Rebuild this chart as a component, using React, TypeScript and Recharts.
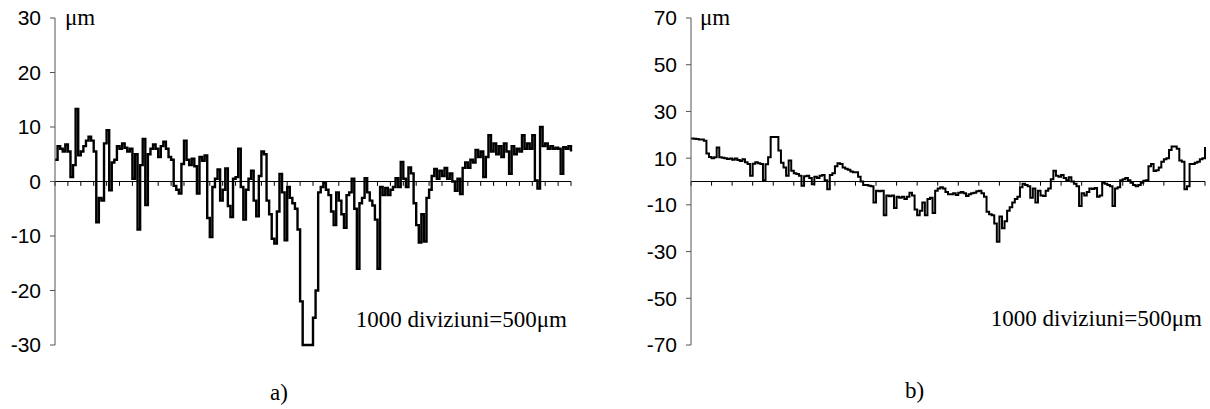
import React from 'react';
import { LineChart, Line, XAxis, YAxis, ReferenceLine } from 'recharts';

// Panel a) profile, one value every 5 divisions (0..1000), in µm
const profileA: number[] = [
  4, 6.5, 6, 5.5, 6.8, 5.5, 0.8, 3, 13.3, 4.8,
  5.5, 6.5, 7.5, 8.2, 7.5, 5.5, -7.5, -3, -3.5, 7,
  9.4, -1.6, 3.5, 4, 6.5, 6, 7, 6.2, 5.5, 6,
  0.5, 5, -8.8, 3, 7.8, -4.3, 5, 6, 6.8, 6,
  4.5, 6.5, 7.3, 6, 4.5, 4, -0.8, -1.5, -2.2, 3.2,
  7.5, 4, 3, 4.2, 2.8, -2.2, 4.5, 3.8, 4.8, -6.7,
  -10.2, -1, 0.5, 2.2, -3.5, -1.5, 2.4, -4.5, -6.5, 0.5,
  0.8, 6, -1, -7, -1.5, 0.5, 2, -3.5, -6.4, 1,
  5.5, 5, -3.5, -6, -10.5, -11.4, -5.5, 1.4, -2, -10.8,
  -1, -3, -4, -5, -8.8, -22, -30, -30, -30, -30,
  -25, -20, -2, -1, -0.3, -1.5, -2.5, -5.5, -8, -2,
  -3.5, -6, -8.5, -2.5, -2, 0.5, -5, -16, -4, -3,
  0.6, -2, -3.5, -4.4, -7, -16, -1, -2.5, -1.2, -2.5,
  -1.5, -1, 0.6, -1, 3.6, 0.5, -1, 2.6, 1.5, -4,
  -8, -11.2, -6, -11, -3, -1.5, 1, 2.3, 0.5, 2,
  1, 2.5, 0.5, 1.5, 0, -1.7, 0.5, -2.3, 2.5, 3.5,
  2.5, 4, 3.5, 5.8, 4.5, 5.5, 0.8, 4.5, 8.5, 5.5,
  7, 5, 6.5, 4.5, 7, 5.5, 1.4, 6.5, 5, 6,
  5.5, 8.5, 6, 7, 6, 8.5, 0.2, -1.3, 10, 6.5,
  7, 6, 6.5, 6, 6.2, 6, 1.4, 6.3, 6, 6.5,
  5.5,
];

// Panel b) profile, one value every 5 divisions (0..1000), in µm
const profileB: number[] = [
  18.4, 18.3, 18.2, 18, 18, 17.5, 12, 10.5, 10, 10.4,
  14.6, 10.4, 10.2, 10, 9.6, 9.8, 9.3, 9.8, 9.2, 8.8,
  9.5, 8.2, 7.5, 2.5, 7.6, 8.2, 7.8, 7.5, 0.5, 7.4,
  10.4, 19, 19, 19, 13.3, 8, 6, 2.5, 9, 4.6,
  3.5, 3.2, 2.5, -1.8, 2.3, 2.5, 1.5, -1.2, 2, 1.5,
  2.5, 2.8, 0.5, -3.3, 2.8, 3.5, 6.5, 7.8, 7.5, 6,
  5.5, 5, 4.3, 4, 4, 2, 0, -1.5, -1.5, -1.8,
  -2, -9, -4, -4.2, -4, -14.5, -6, -6.3, -6, -11.3,
  -6.5, -7, -6.5, -7.5, -6.5, -4.8, -6, -12, -14.5, -12.5,
  -9, -14.5, -7.5, -7, -13.5, -4, -3, -2.5, -3, -4.5,
  -5.5, -5.5, -5, -5.8, -4.8, -4.5, -5, -6.2, -5.5, -5,
  -4.8, -4.2, -4, -5, -6.5, -13, -14, -14.5, -18, -25.8,
  -15, -20, -17, -12.5, -11, -9, -7.5, -6.5, -2.5, -1,
  -1.5, -2, -7, -3, -9, -4, -6, -6.2, -4, -3,
  1, 4.6, 2.5, 2, 2.8, 1.5, 0.5, 1.8, 0, -1,
  -2, -10.5, -5, -6, -4.5, -3, -3.2, -2.8, -6.5, -6,
  -0.5, -1, -1.5, -2, -10.5, -3, -2.5, 0.5, 1, 1.5,
  0.5, -0.5, -1.5, -2, -1.5, -0.5, 0.3, 0.5, 6.5, 7.5,
  4.5, 4.8, 6, 8.5, 9.5, 10, 13.5, 15, 15, 14,
  9, 8.5, -3.3, -2, 7.5, 7.5, 8, 8.5, 9.5, 10,
  14.8,
];

const STEP = 5;
const yTicksA = [-30, -20, -10, 0, 10, 20, 30];
const yTicksB = [-70, -50, -30, -10, 10, 30, 50, 70];
const xTicksA = [
  0, 25, 50, 75, 100, 125, 150, 175, 200, 225, 250, 275, 300, 325, 350, 375, 400, 425, 450, 475,
  500, 525, 550, 575, 600, 625, 650, 675, 700, 725, 750, 775, 800, 825, 850, 875, 900, 925, 950, 975, 1000,
];
const xTicksB = [
  0, 40, 80, 120, 160, 200, 240, 280, 320, 360, 400, 440, 480, 520, 560, 600, 640, 680, 720, 760, 800,
  840, 880, 920, 960, 1000,
];
const unitLabel = 'μm';
const scaleLabel = '1000 diviziuni=500μm';
const panelLabels = ['a)', 'b)'];

const dataA = profileA.map((v, i) => ({ d: i * STEP, v }));
const dataB = profileB.map((v, i) => ({ d: i * STEP, v }));

const serif = "'Liberation Serif', 'Times New Roman', Times, serif";
const sans = "'Liberation Sans', Arial, sans-serif";

function Panel(props: {
  data: { d: number; v: number }[];
  yTicks: number[];
  xTicks: number[];
  domain: [number, number];
  tickLen: number;
  width: number;
  right: number;
  lineWidth: number;
}) {
  const { data, yTicks, xTicks, domain, tickLen, width, right, lineWidth } = props;
  return (
    <LineChart
      width={width}
      height={409}
      data={data}
      margin={{ top: 18, right, bottom: 64, left: 0 }}
    >
      <XAxis dataKey="d" type="number" domain={[0, 1000]} hide />
      <YAxis
        type="number"
        domain={domain}
        ticks={yTicks}
        interval={0}
        width={55}
        tickSize={5}
        tickMargin={9}
        axisLine={{ stroke: '#555', strokeWidth: 1 }}
        tickLine={{ stroke: '#555', strokeWidth: 1 }}
        tick={{ fill: '#000', fontSize: 21, style: { fontFamily: sans } }}
      />
      <ReferenceLine y={0} stroke="#000" strokeWidth={1} />
      {xTicks.map((t) => (
        <ReferenceLine
          key={t}
          segment={[
            { x: t, y: 0 },
            { x: t, y: -tickLen },
          ]}
          stroke="#000"
          strokeWidth={1}
        />
      ))}
      <Line
        dataKey="v"
        type="stepAfter"
        stroke="#000"
        strokeWidth={lineWidth}
        dot={false}
        activeDot={false}
        isAnimationActive={false}
      />
    </LineChart>
  );
}

export default function App() {
  const textStyle = { fontFamily: serif, fontSize: 23 };
  return (
    <div
      style={{
        position: 'absolute',
        left: 0,
        top: 0,
        width: 1210,
        height: 409,
        background: '#fff',
        overflow: 'hidden',
      }}
    >
      <div style={{ position: 'absolute', left: 0, top: 0 }}>
        <Panel data={dataA} yTicks={yTicksA} xTicks={xTicksA} domain={[-30, 30]} tickLen={0.8} width={600} right={29} lineWidth={2.4} />
      </div>
      <div style={{ position: 'absolute', left: 636, top: 0 }}>
        <Panel data={dataB} yTicks={yTicksB} xTicks={xTicksB} domain={[-70, 70]} tickLen={1.8} width={574} right={5} lineWidth={2} />
      </div>
      <svg
        width={1210}
        height={409}
        style={{ position: 'absolute', left: 0, top: 0, pointerEvents: 'none' }}
      >
        <g fill="#000">
          <text x={65} y={25} style={textStyle}>{unitLabel}</text>
          <text x={700} y={25} style={textStyle}>{unitLabel}</text>
          <text x={567} y={327} textAnchor="end" style={textStyle}>{scaleLabel}</text>
          <text x={1202} y={326} textAnchor="end" style={textStyle}>{scaleLabel}</text>
          <text x={270} y={400} style={textStyle}>{panelLabels[0]}</text>
          <text x={905} y={398} style={textStyle}>{panelLabels[1]}</text>
        </g>
      </svg>
    </div>
  );
}
